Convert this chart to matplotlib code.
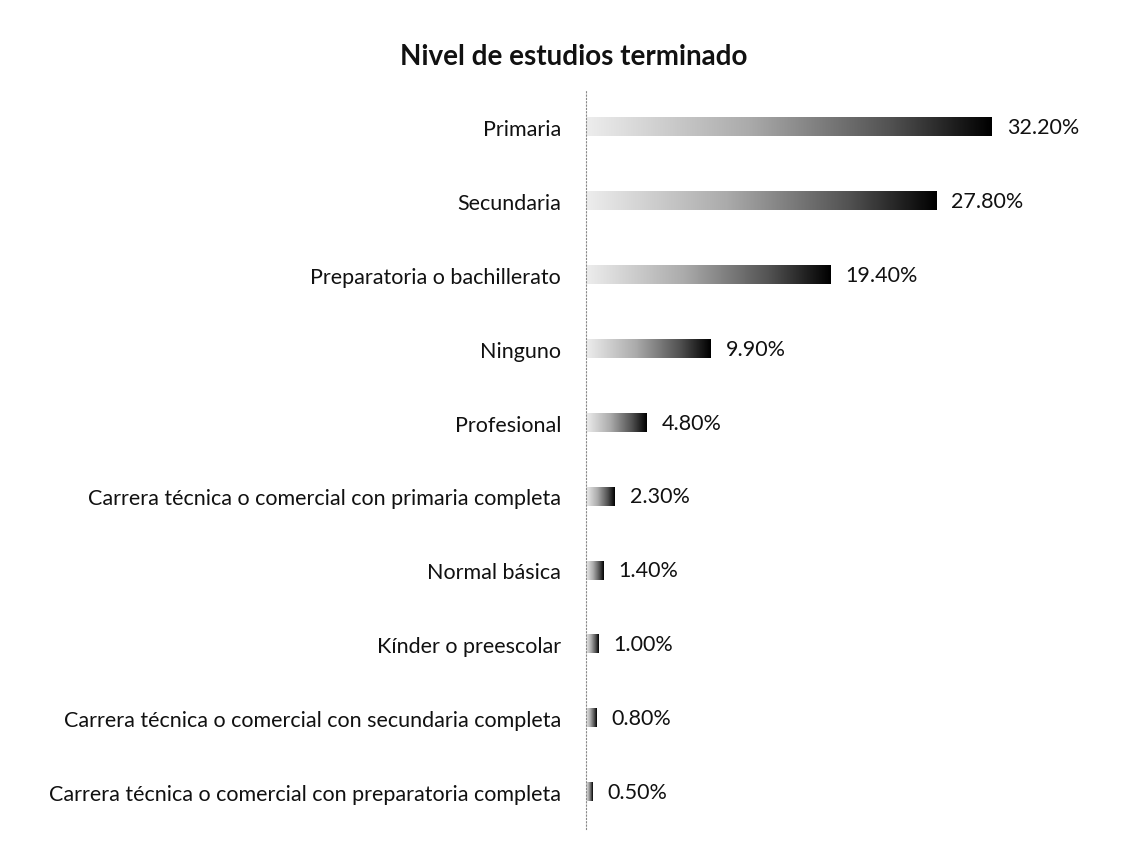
import matplotlib
matplotlib.use("Agg")
import matplotlib.pyplot as plt
import numpy as np
from matplotlib.colors import LinearSegmentedColormap

# Nivel de estudios terminado (porcentaje)
categorias = [
    "Primaria",
    "Secundaria",
    "Preparatoria o bachillerato",
    "Ninguno",
    "Profesional",
    "Carrera técnica o comercial con primaria completa",
    "Normal básica",
    "Kínder o preescolar",
    "Carrera técnica o comercial con secundaria completa",
    "Carrera técnica o comercial con preparatoria completa",
]
porcentajes = [32.2, 27.8, 19.4, 9.9, 4.8, 2.3, 1.4, 1.0, 0.8, 0.5]

plt.rcParams['font.family'] = ['Lato', 'DejaVu Sans']

fig = plt.figure(figsize=(11.4, 8.45), dpi=100)
ax = fig.add_axes([0.514, 0.018, 0.442, 0.874])

#Grey-to-black gradient used to fill each bar
cmap = LinearSegmentedColormap.from_list(
    "gris", [(0.0, "#ededed"), (0.4, "#ababab"), (0.75, "#525252"), (1.0, "#000000")])
gradiente = np.linspace(0, 1, 256).reshape(1, -1)

alto = 0.25
ys = np.arange(len(categorias))
for y, valor in zip(ys, porcentajes):
    ax.imshow(gradiente, cmap=cmap, aspect='auto', interpolation='bilinear',
              extent=(0, valor, y + alto / 2, y - alto / 2), zorder=2)
    ax.text(valor + 1.2, y, "{:.2f}%".format(valor), va='center', ha='left',
            fontsize=15.5, color='#111111')

ax.set_xlim(0, 40)
ax.set_ylim(len(categorias) - 0.5, -0.5)
ax.set_yticks(ys)
ax.set_yticklabels(categorias, fontsize=15.5, color='#111111')
ax.tick_params(axis='y', length=0, pad=18)
ax.set_xticks([])

#Only a faint dotted axis line on the left
for lado in ['top', 'right', 'bottom']:
    ax.spines[lado].set_visible(False)
ax.spines['left'].set_color('#888888')
ax.spines['left'].set_linestyle((0, (1, 2)))
ax.spines['left'].set_linewidth(0.8)

fig.text(0.503, 0.932, "Nivel de estudios terminado", ha='center', va='center',
         fontsize=20, fontweight='bold', color='#111111')

plt.savefig('out.png', dpi=100)
